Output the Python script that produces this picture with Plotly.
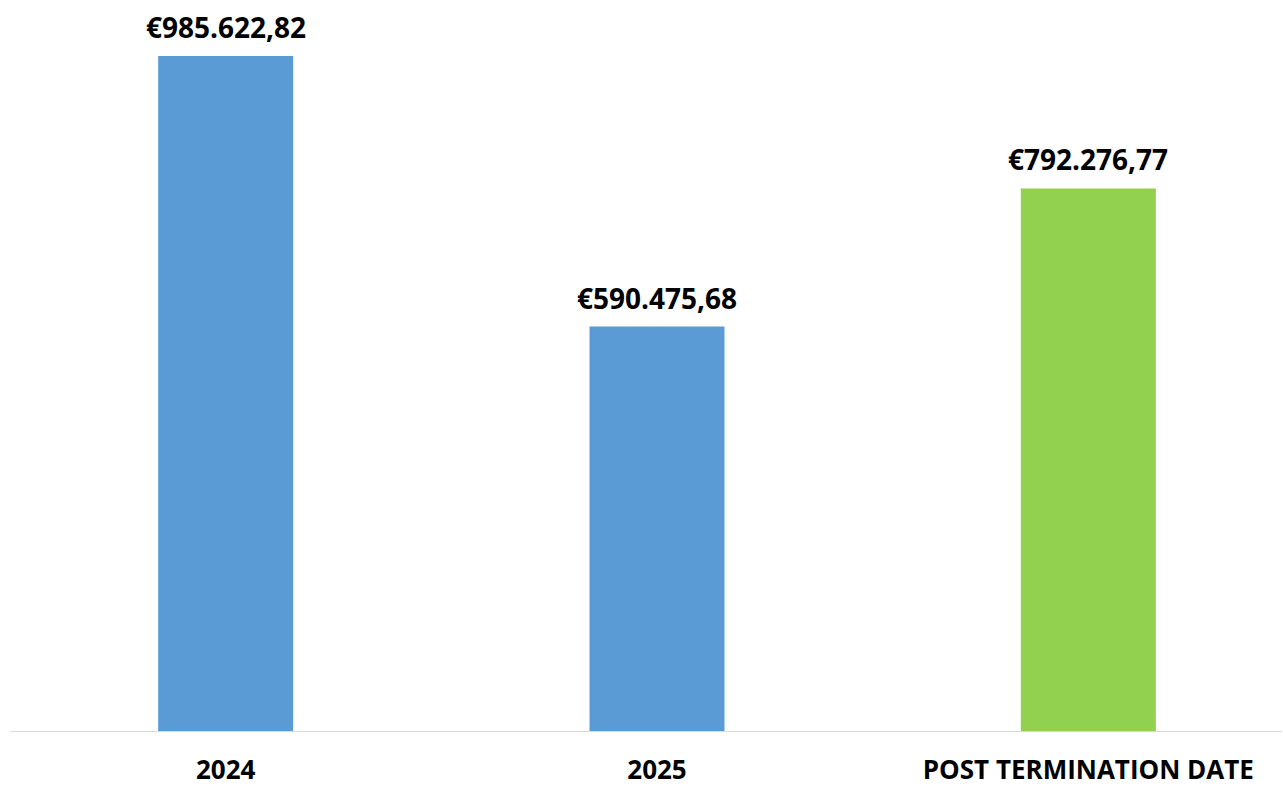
import plotly.graph_objects as go

categories = ["2024", "2025", "POST TERMINATION DATE"]
values = [985622.82, 590475.68, 792276.77]
colors = ["#5B9BD5", "#5B9BD5", "#92D050"]


def eur(v):
    s = f"{v:,.2f}"
    s = s.replace(",", "X").replace(".", ",").replace("X", ".")
    return "€" + s


FONT = "Open Sans"

fig = go.Figure()
fig.add_trace(go.Bar(
    x=categories, y=values, marker_color=colors, marker_line_width=0,
    width=0.313, hoverinfo="skip",
))
for i, v in enumerate(values):
    fig.add_annotation(x=i, y=v, xref="x", yref="y", text=eur(v), showarrow=False,
                       yanchor="bottom", yshift=8,
                       font=dict(family=FONT, size=28, color="#000000", weight="bold"))

fig.update_layout(
    width=1283, height=787,
    margin=dict(l=10, r=1, t=20, b=56, autoexpand=False),
    paper_bgcolor="white", plot_bgcolor="white",
    showlegend=False,
    xaxis=dict(type="category", range=[-0.5, 2.449], showline=True, linecolor="#D9D9D9",
               linewidth=1, showgrid=False, zeroline=False, ticks="",
               ticklabelstandoff=16, automargin=False,
               tickfont=dict(family=FONT, size=26, color="#000000", weight="bold")),
    yaxis=dict(range=[0, 711 / (675 / 985622.82)], visible=False, showgrid=False,
               zeroline=False, automargin=False),
    font=dict(family=FONT),
)

fig.write_html(
    "out.html",
    config={"displayModeBar": False},
    post_script="document.body.style.margin='0';document.body.style.overflow='hidden';",
)
